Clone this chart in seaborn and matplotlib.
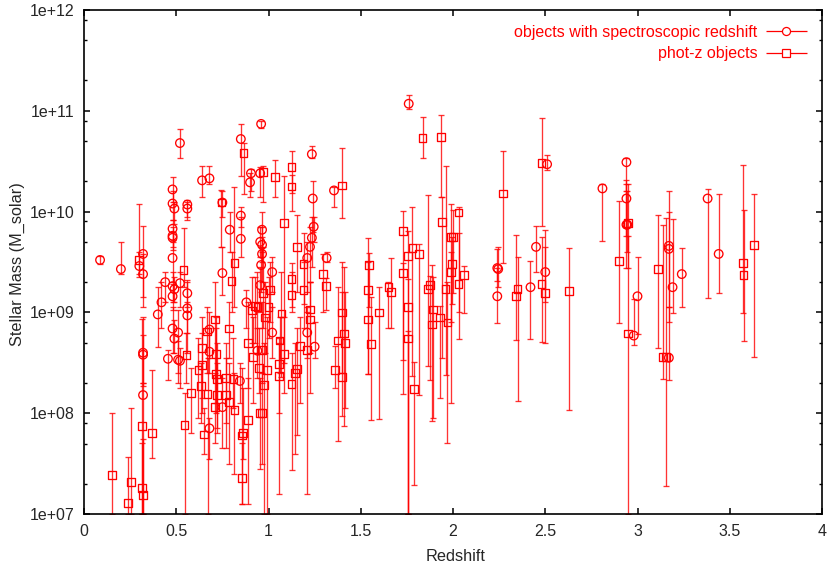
import numpy as np
import pandas as pd
import matplotlib
matplotlib.use('Agg')
import matplotlib.pyplot as plt
from matplotlib.legend_handler import HandlerErrorbar
from matplotlib.ticker import FixedLocator, FuncFormatter, LogLocator, NullFormatter
import seaborn as sns

# values, masses as log10(M_solar)
spec_z = [0.087, 0.20, 0.30, 0.32, 0.32, 0.44, 0.42, 0.48, 0.48, 0.49,
          0.52, 0.48, 0.48, 0.48, 0.48, 0.48, 0.48, 0.49, 0.52, 0.56,
          0.56, 0.56, 0.64, 0.68, 0.75, 0.75, 0.79, 0.85, 0.85, 0.85,
          0.905, 0.90, 0.96, 0.955, 0.965, 0.955, 0.965, 0.965, 0.96, 0.955,
          0.88, 1.02, 0.40, 0.56, 0.56, 0.48, 0.49, 0.51, 0.32, 0.32,
          0.455, 0.51, 0.52, 0.32, 0.68, 0.68, 0.68, 0.75, 0.845, 1.02,
          0.94, 1.235, 1.24, 1.245, 1.235, 1.225, 1.21, 1.315, 1.355, 1.25,
          1.21, 1.76, 2.81, 2.51, 2.45, 2.50, 2.42, 2.24, 2.245, 2.24,
          2.94, 2.94, 2.94, 2.945, 2.98, 3.0, 3.17, 3.17, 3.19, 3.24,
          3.17, 3.38, 3.44]
spec_m = [9.52, 9.43, 9.46, 9.58, 9.38, 9.30, 9.10, 10.22, 10.08, 10.03,
          10.68, 9.83, 9.76, 9.74, 9.54, 9.26, 9.16, 9.23, 9.29, 9.19,
          10.07, 10.03, 10.31, 10.33, 10.09, 9.39, 9.82, 10.72, 9.96, 9.73,
          10.38, 10.29, 10.87, 10.38, 9.82, 9.70, 9.67, 9.58, 9.47, 9.27,
          9.10, 9.40, 8.98, 9.04, 8.97, 8.84, 8.74, 8.80, 8.60, 8.58,
          8.54, 8.53, 8.52, 8.18, 8.83, 8.61, 7.85, 8.06, 8.32, 8.80,
          8.62, 10.57, 10.13, 9.85, 9.74, 9.65, 9.54, 9.54, 10.21, 8.66,
          8.80, 11.07, 10.23, 10.47, 9.65, 9.40, 9.25, 9.44, 9.43, 9.16,
          10.49, 10.13, 9.87, 9.87, 8.77, 9.16, 9.66, 9.63, 9.25, 9.38,
          8.55, 10.13, 9.58]
spec_lo = [9.48, 9.38, 9.38, 9.05, 9.15, 9.10, 8.85, 10.10, 9.92, 9.88,
           10.53, 9.70, 9.65, 9.62, 9.30, 9.10, 9.02, 9.10, 9.05, 9.05,
           9.95, 9.92, 10.14, 10.27, 9.95, 9.17, 9.60, 10.35, 9.85, 9.55,
           10.20, 10.14, 10.83, 10.14, 9.60, 9.55, 9.50, 9.30, 9.20, 9.00,
           8.85, 9.20, 8.66, 8.80, 8.60, 8.60, 8.60, 8.40, 8.27, 8.30,
           8.33, 8.30, 8.25, 7.00, 8.55, 8.40, 7.55, 7.65, 8.10, 8.55,
           8.35, 10.53, 9.80, 9.70, 9.45, 9.30, 9.20, 9.50, 10.05, 8.55,
           8.55, 11.02, 9.71, 10.41, 9.40, 9.10, 8.74, 9.31, 9.25, 8.89,
           10.20, 9.76, 9.44, 9.60, 8.68, 8.79, 9.05, 8.90, 8.99, 9.05,
           8.33, 9.14, 9.19]
spec_hi = [9.56, 9.70, 9.60, 9.86, 9.58, 9.40, 9.30, 10.34, 10.20, 10.10,
           10.82, 9.92, 9.85, 9.80, 9.72, 9.40, 9.28, 9.35, 9.40, 9.32,
           10.12, 10.10, 10.45, 10.45, 10.20, 9.65, 10.00, 10.87, 10.05, 9.95,
           10.42, 10.38, 10.90, 10.44, 10.00, 9.85, 9.85, 9.75, 9.65, 9.45,
           9.22, 9.55, 9.25, 9.30, 9.10, 9.05, 8.92, 9.02, 8.95, 8.78,
           8.63, 8.72, 8.65, 8.30, 9.00, 8.85, 7.95, 8.35, 8.50, 9.05,
           8.85, 10.65, 10.30, 9.95, 9.95, 9.85, 9.70, 9.60, 10.24, 8.90,
           9.05, 11.16, 10.27, 10.56, 9.86, 9.82, 9.51, 9.63, 9.65, 9.44,
           10.53, 10.31, 10.27, 10.20, 9.13, 9.55, 10.20, 10.00, 9.93, 9.64,
           9.05, 10.22, 10.17]

phot_z = [0.15, 0.24, 0.255, 0.315, 0.315, 0.32, 0.37, 0.545, 0.58, 0.555,
          0.30, 0.815, 0.80, 0.54, 0.745, 0.865, 0.97, 1.01, 0.97, 0.925,
          0.665, 0.64, 0.62, 0.64, 0.635, 0.71, 0.715, 0.715, 0.72, 0.72,
          0.71, 0.67, 0.65, 0.77, 0.77, 0.785, 0.785, 0.815, 0.81, 0.89,
          0.89, 0.86, 0.855, 0.855, 0.915, 0.95, 0.965, 0.99, 0.975, 0.955,
          0.965, 0.98, 1.0, 0.94, 0.91, 1.06, 1.085, 1.055, 1.055, 1.155,
          1.145, 1.125, 1.21, 1.17, 1.035, 1.125, 1.125, 1.085, 1.155, 1.19,
          1.125, 1.125, 1.19, 1.07, 1.225, 1.225, 1.295, 1.31, 1.40, 1.40,
          1.41, 1.415, 1.375, 1.36, 1.40, 1.54, 1.545, 1.54, 1.555, 1.60,
          1.65, 1.665, 1.73, 1.73, 1.755, 1.755, 1.755, 1.78, 1.815, 1.79,
          1.835, 1.935, 1.94, 1.865, 1.875, 1.885, 1.89, 1.93, 1.96, 1.97,
          1.99, 1.995, 1.99, 2.03, 2.0, 2.06, 2.03, 2.27, 2.48, 2.35,
          2.34, 2.48, 2.50, 2.63, 2.90, 2.95, 2.95, 3.11, 3.14, 3.155,
          3.57, 3.575, 3.63]
phot_m = [7.39, 7.11, 7.32, 7.87, 7.26, 7.19, 7.80, 7.88, 8.20, 8.58,
          9.52, 9.49, 9.31, 9.42, 10.09, 10.58, 10.39, 9.22, 9.19, 9.06,
          8.81, 8.65, 8.43, 8.48, 8.27, 8.93, 8.59, 8.39, 8.34, 8.18,
          8.06, 8.19, 7.79, 8.35, 8.18, 8.84, 8.11, 8.03, 8.34, 8.70,
          7.93, 7.80, 7.78, 7.36, 8.56, 8.45, 8.63, 8.43, 8.28, 8.00,
          8.00, 8.95, 9.05, 9.05, 9.02, 8.72, 8.59, 8.49, 8.37, 8.44,
          8.40, 8.29, 8.63, 8.67, 10.34, 10.44, 10.25, 9.89, 9.65, 9.48,
          9.33, 9.17, 9.22, 8.99, 9.03, 8.93, 9.38, 9.26, 10.26, 9.00,
          8.79, 8.70, 8.72, 8.43, 8.36, 9.22, 9.47, 8.93, 8.69, 9.00,
          9.25, 9.20, 9.81, 9.39, 9.56, 9.05, 8.74, 9.64, 9.58, 8.24,
          10.73, 10.74, 9.90, 9.23, 9.27, 8.88, 9.03, 8.95, 9.23, 8.90,
          9.75, 9.48, 9.40, 9.99, 9.75, 9.37, 9.28, 10.18, 10.48, 9.23,
          9.16, 9.28, 9.19, 9.21, 9.51, 9.89, 8.79, 9.43, 8.56, 8.56,
          9.49, 9.37, 9.67]
phot_lo = [7.00, 7.00, 7.00, 7.00, 7.00, 7.00, 7.56, 7.00, 7.80, 8.30,
           9.35, 9.05, 9.00, 9.25, 9.65, 10.17, 10.10, 8.90, 8.85, 8.70,
           8.40, 8.00, 7.95, 8.15, 7.90, 8.35, 8.10, 8.00, 7.85, 7.80,
           7.70, 7.00, 7.60, 7.90, 7.65, 8.55, 7.50, 7.40, 8.05, 8.25,
           7.10, 7.55, 7.10, 7.10, 8.10, 8.20, 8.30, 7.00, 7.00, 7.45,
           7.50, 8.60, 8.75, 8.60, 8.70, 8.40, 8.20, 7.20, 8.00, 7.78,
           7.60, 7.44, 7.20, 8.10, 10.14, 10.01, 10.18, 8.50, 9.20, 9.08,
           9.05, 9.00, 8.85, 8.36, 8.60, 8.20, 9.00, 9.02, 9.94, 8.40,
           7.87, 8.05, 7.72, 8.25, 7.97, 8.39, 9.05, 8.39, 7.93, 7.94,
           8.85, 8.85, 8.53, 8.19, 7.00, 7.00, 7.00, 8.37, 8.18, 7.29,
           10.53, 10.14, 8.55, 8.47, 8.33, 7.92, 7.95, 8.15, 8.38, 7.70,
           8.10, 9.08, 8.90, 9.00, 9.19, 8.99, 8.74, 9.49, 9.86, 8.12,
           8.73, 8.71, 8.70, 8.03, 8.89, 9.44, 7.00, 8.65, 8.34, 7.28,
           8.99, 8.72, 8.56]
phot_hi = [8.00, 7.57, 8.05, 8.93, 7.70, 7.74, 8.43, 8.20, 8.45, 8.80,
           10.08, 10.24, 9.60, 9.84, 10.21, 10.68, 10.45, 9.50, 9.65, 9.35,
           9.05, 8.95, 8.75, 8.80, 8.50, 9.30, 8.95, 8.85, 8.70, 8.50,
           8.40, 8.55, 8.05, 8.70, 8.55, 9.10, 8.50, 8.40, 8.75, 9.10,
           8.35, 8.25, 8.45, 7.70, 8.95, 8.85, 9.10, 8.95, 8.70, 8.35,
           8.40, 9.30, 9.35, 9.40, 9.35, 8.95, 8.95, 8.75, 8.70, 8.85,
           8.70, 8.60, 9.00, 8.95, 10.51, 10.60, 10.36, 10.35, 9.97, 9.79,
           9.49, 9.40, 9.50, 9.40, 9.30, 9.30, 9.58, 9.34, 10.63, 9.50,
           9.45, 9.20, 9.25, 8.67, 9.20, 9.74, 9.59, 9.50, 9.15, 9.25,
           9.30, 9.54, 10.01, 9.49, 9.81, 9.33, 8.82, 10.05, 9.68, 8.51,
           10.94, 10.96, 10.14, 10.16, 9.36, 9.47, 9.35, 9.06, 10.45, 9.30,
           10.08, 9.75, 9.60, 10.05, 10.02, 9.46, 9.79, 10.60, 10.93, 9.55,
           9.77, 9.75, 9.65, 9.64, 10.11, 10.27, 9.76, 9.97, 9.87, 9.94,
           10.46, 10.02, 10.17]

spec_label = 'objects with spectroscopic redshift'
phot_label = 'phot-z objects'

sns.set_style('ticks')
plt.rcParams['font.family'] = ['Liberation Sans', 'DejaVu Sans']

fig, ax = plt.subplots(figsize=(8.3, 5.69), dpi=100)
fig.subplots_adjust(left=84/830, right=822/830, top=1-10/569, bottom=1-514/569)

spec = pd.DataFrame({'z': spec_z, 'm': 10.0**np.array(spec_m), 'lo': 10.0**np.array(spec_lo), 'hi': 10.0**np.array(spec_hi)})
phot = pd.DataFrame({'z': phot_z, 'm': 10.0**np.array(phot_m), 'lo': 10.0**np.array(phot_lo), 'hi': 10.0**np.array(phot_hi)})

for d, mk, size in [(spec, 'o', 38), (phot, 's', 31)]:
    ax.errorbar(d['z'], d['m'], yerr=[d['m']-d['lo'], d['hi']-d['m']], fmt='none',
                ecolor='red', elinewidth=0.95, capsize=2.1, capthick=0.95, alpha=0.8)
    sns.scatterplot(data=d, x='z', y='m', marker=mk, s=size, facecolors='none',
                    edgecolor='red', linewidth=0.95, ax=ax, legend=False, zorder=3)

# legend proxies, horizontal bars like the original key
h1 = ax.errorbar([], [], xerr=[], fmt='o', mfc='white', mec='red', mew=0.9, ms=5.8, color='red',
                 ecolor='red', elinewidth=0.9, capsize=2.1, capthick=0.9)
h2 = ax.errorbar([], [], xerr=[], fmt='s', mfc='white', mec='red', mew=0.9, ms=5.4, color='red',
                 ecolor='red', elinewidth=0.9, capsize=2.1, capthick=0.9)
ax.legend([h1, h2], [spec_label, phot_label], loc='upper right', frameon=False, fontsize=11.55,
          labelcolor='red', markerfirst=False, alignment='right', numpoints=1,
          handlelength=2.5, handletextpad=0.55, labelspacing=0.42,
          bbox_to_anchor=(0.979, 0.971), borderaxespad=0, borderpad=0,
          handler_map={h1: HandlerErrorbar(xerr_size=1.25), h2: HandlerErrorbar(xerr_size=1.25)})
for t in ax.get_legend().get_texts():
    t.set_ha('right')

ax.set_yscale('log')
ax.set_xlim(0, 4)
ax.set_ylim(1e7, 1e12)
ax.xaxis.set_major_locator(FixedLocator([0, 0.5, 1, 1.5, 2, 2.5, 3, 3.5, 4]))
ax.xaxis.set_major_formatter(FuncFormatter(lambda v, p: f'{v:g}'))
ax.yaxis.set_major_locator(LogLocator(base=10, numticks=10))
ax.yaxis.set_minor_locator(LogLocator(base=10, subs=[2, 5, 8], numticks=10))
ax.yaxis.set_major_formatter(FuncFormatter(lambda v, p: f'1e+{int(round(np.log10(v))):02d}'))
ax.yaxis.set_minor_formatter(NullFormatter())
ax.tick_params(which='major', direction='in', top=True, right=True, length=4.5, width=1.1, labelsize=11.5, pad=7, color='black')
ax.tick_params(which='minor', direction='in', top=False, right=True, length=2.4, width=1.0, color='black')
for s in ax.spines.values():
    s.set_linewidth(1.2)
    s.set_color('black')
    s.set_zorder(5)
ax.set_xlabel('Redshift', fontsize=11.7, labelpad=7.5, x=0.503)
ax.set_ylabel('Stellar Mass (M_solar)', fontsize=11.7, y=0.496, labelpad=3.5)

fig.savefig('out.png', dpi=100)
